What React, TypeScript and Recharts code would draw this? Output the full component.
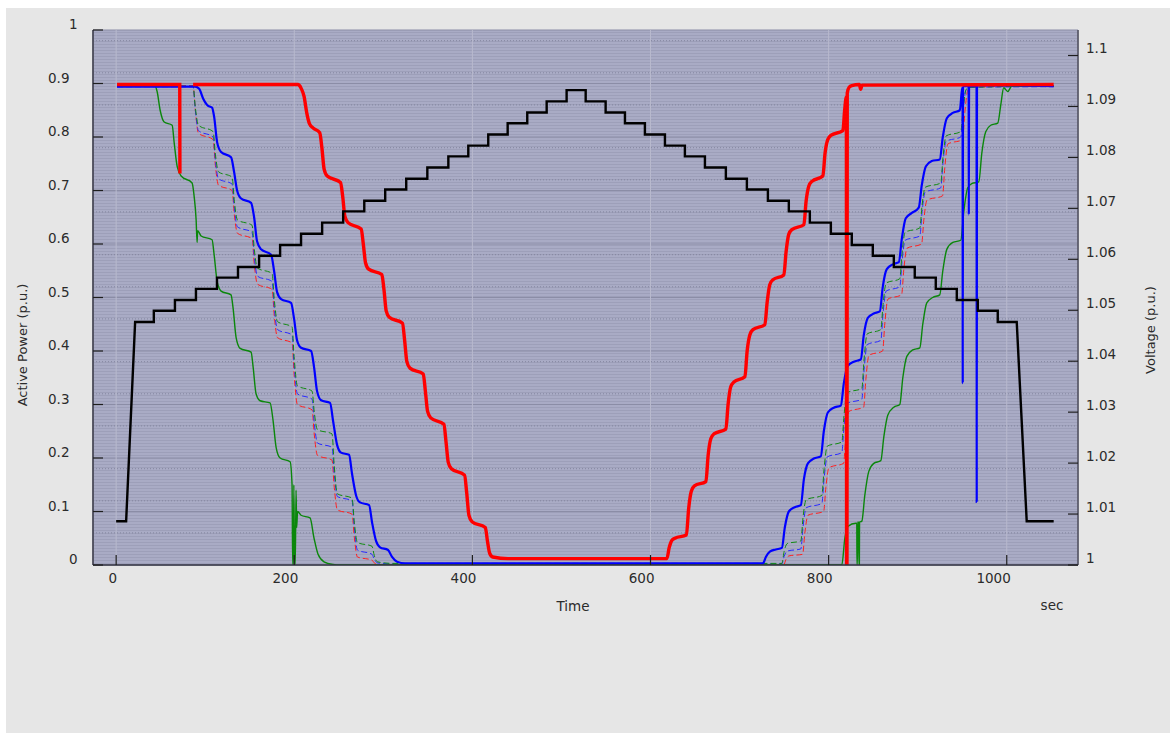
import React from 'react';
import { LineChart, Line, XAxis, YAxis, CartesianGrid } from 'recharts';

type Pt = [number, number | null];

// ---- axes ----
const timeTicks = [0, 200, 400, 600, 800, 1000];
const powerTicks = [0, 0.1, 0.2, 0.3, 0.4, 0.5, 0.6, 0.7, 0.8, 0.9, 1];
const powerMinorTicks = [
  0.02, 0.04, 0.06, 0.08, 0.12, 0.14, 0.16, 0.18, 0.22, 0.24, 0.26, 0.28, 0.32, 0.34, 0.36, 0.38,
  0.42, 0.44, 0.46, 0.48, 0.52, 0.54, 0.56, 0.58, 0.62, 0.64, 0.66, 0.68, 0.72, 0.74, 0.76, 0.78,
  0.82, 0.84, 0.86, 0.88, 0.92, 0.94, 0.96, 0.98,
];
const voltageTicks = [1, 1.01, 1.02, 1.03, 1.04, 1.05, 1.06, 1.07, 1.08, 1.09, 1.1];

// ---- voltage (p.u.): plateaus [start s, end s, level] ----
const voltagePlateaus: [number, number, number][] = [
  [0, 11.2, 1.0086],
  [21.3, 42.3, 1.0477], [42.3, 66.0, 1.0499], [66.0, 89.6, 1.052], [89.6, 113.2, 1.0542],
  [113.2, 136.8, 1.0564], [136.8, 160.5, 1.0585], [160.5, 184.1, 1.0607], [184.1, 207.6, 1.0628],
  [207.6, 231.3, 1.065], [231.3, 254.9, 1.0672], [254.9, 278.6, 1.0694], [278.6, 302.1, 1.0715],
  [302.1, 325.7, 1.0737], [325.7, 349.4, 1.0758], [349.4, 373.0, 1.078], [373.0, 395.4, 1.0802],
  [395.4, 417.8, 1.0823], [417.8, 439.6, 1.0845], [439.6, 461.6, 1.0867], [461.6, 483.4, 1.0888],
  [483.4, 505.8, 1.091], [505.8, 527.2, 1.0932], [527.2, 549.6, 1.091], [549.6, 571.3, 1.0888],
  [571.3, 593.7, 1.0867], [593.7, 616.2, 1.0845], [616.2, 638.6, 1.0823], [638.6, 661.1, 1.0802],
  [661.1, 684.6, 1.078], [684.6, 708.2, 1.0758], [708.2, 731.8, 1.0737], [731.8, 755.3, 1.0715],
  [755.3, 778.9, 1.0694], [778.9, 802.5, 1.0672], [802.5, 826.0, 1.065], [826.0, 849.6, 1.0628],
  [849.6, 873.2, 1.0607], [873.2, 896.7, 1.0585], [896.7, 920.3, 1.0564], [920.3, 943.9, 1.0542],
  [943.9, 967.5, 1.052], [967.5, 989.9, 1.0499], [989.9, 1011.2, 1.0477],
  [1022.4, 1052.7, 1.0086],
];

// ---- active power (p.u.) ----
const redPower: Pt[] = [
  [1, 0.898], [71.4, 0.898], [71.6, 0.732], [72.0, null], [86.4, 0.898], [204, 0.898],
  [205.4, 0.897], [208, 0.89], [211, 0.876], [214, 0.845], [217, 0.825], [221, 0.817], [228.6, 0.808],
  [231, 0.78], [233.5, 0.74], [237, 0.727], [251.9, 0.715],
  [254.3, 0.69], [256.8, 0.652], [260.3, 0.64], [275.1, 0.628],
  [277.5, 0.6], [280, 0.565], [283.5, 0.553], [298.3, 0.543],
  [300.7, 0.515], [303.2, 0.475], [306.7, 0.463], [321.5, 0.452],
  [323.9, 0.42], [326.4, 0.38], [329.9, 0.368], [344.8, 0.357],
  [347.2, 0.325], [349.7, 0.287], [353.2, 0.275], [368.0, 0.263],
  [370.4, 0.23], [372.9, 0.192], [376.4, 0.18], [391.2, 0.168],
  [393.6, 0.135], [396.1, 0.093], [399.6, 0.081], [414.5, 0.07],
  [416.9, 0.045], [419.4, 0.022], [422.9, 0.015], [440, 0.012], [618.4, 0.012],
  [620.9, 0.032], [623.9, 0.046], [627.4, 0.05], [640.3, 0.056],
  [642.8, 0.105], [645.8, 0.138], [649.3, 0.148], [662.2, 0.156],
  [664.7, 0.205], [667.7, 0.236], [671.2, 0.245], [684.6, 0.254],
  [687.1, 0.3], [690.1, 0.333], [693.6, 0.342], [706.0, 0.352],
  [708.5, 0.4], [711.5, 0.43], [715, 0.44], [728.4, 0.449],
  [730.9, 0.49], [733.9, 0.524], [737.4, 0.533], [749.7, 0.542],
  [752.2, 0.585], [755.2, 0.618], [758.7, 0.627], [772.2, 0.636],
  [774.7, 0.68], [777.7, 0.708], [781.2, 0.717], [793.5, 0.727],
  [796, 0.77], [799, 0.795], [802.5, 0.803], [816.0, 0.812],
  [818.0, 0.85], [819.9, 0.875], [820.2, 0], [820.6, 0], [820.9, 0.882], [823, 0.893], [826, 0.896],
  [834.5, 0.898], [836, 0.889], [837.5, 0.897], [1052.7, 0.898],
];

const bluePower: Pt[] = [
  [1, 0.894], [88.7, 0.894], [93.2, 0.89], [97.6, 0.872], [103.3, 0.858], [107.7, 0.855],
  [110, 0.838], [113.4, 0.79], [117.8, 0.772], [129, 0.762],
  [132.4, 0.735], [135.8, 0.7], [140.3, 0.685], [151.5, 0.677],
  [154.9, 0.65], [158.2, 0.605], [162.7, 0.59], [174, 0.58],
  [177.3, 0.55], [180.7, 0.51], [185.2, 0.497], [196.4, 0.49],
  [199.8, 0.46], [203.1, 0.42], [207.6, 0.406], [218.9, 0.4],
  [222.2, 0.37], [225.6, 0.325], [230.1, 0.308], [240.2, 0.303],
  [243.5, 0.27], [248, 0.225], [252.5, 0.21], [261.5, 0.206],
  [264.9, 0.17], [269.4, 0.13], [273.8, 0.117], [284, 0.112],
  [287.3, 0.08], [291.8, 0.045], [296.3, 0.033], [305.3, 0.028],
  [309.8, 0.015], [315.4, 0.006], [324.4, 0.003], [726.2, 0.003],
  [729.5, 0.015], [734, 0.025], [740.7, 0.029], [747.5, 0.032],
  [750.8, 0.07], [755.3, 0.1], [762, 0.108], [768.8, 0.112],
  [772.2, 0.16], [776.7, 0.19], [783.4, 0.199], [791.2, 0.203],
  [794.6, 0.25], [799.1, 0.285], [805.8, 0.294], [813.7, 0.298],
  [817.1, 0.34], [821.5, 0.372], [828.3, 0.38], [836.1, 0.384],
  [839.5, 0.43], [844, 0.462], [850.7, 0.47], [857.5, 0.474],
  [860.8, 0.52], [865.3, 0.553], [872.1, 0.562], [878.8, 0.566],
  [882.2, 0.61], [886.6, 0.648], [893.4, 0.658], [901.2, 0.668],
  [904.6, 0.71], [909.1, 0.745], [915.8, 0.755], [924.8, 0.758],
  [928.2, 0.8], [932.7, 0.835], [939.4, 0.845], [947.3, 0.85],
  [949.5, 0.885], [950.4, 0.893], [950.6, 0.34], [950.9, 0.895],
  [957.2, 0.895], [957.4, 0.655], [957.7, 0.895],
  [966.1, 0.895], [966.3, 0.118], [966.6, 0.897], [1052.7, 0.895],
];

const greenPower: Pt[] = [
  [1.1, 0.895], [43.8, 0.895], [46, 0.885], [49.4, 0.85], [53.9, 0.828], [62.9, 0.822],
  [65.1, 0.79], [68.5, 0.745], [73, 0.727], [85.3, 0.714],
  [87.5, 0.69], [89.8, 0.645], [90.9, 0.603], [91.5, 0.625], [95.4, 0.615], [107.7, 0.608],
  [110, 0.58], [113.4, 0.53], [117.8, 0.512], [129, 0.505],
  [131.3, 0.48], [134.7, 0.425], [139.2, 0.405], [151.5, 0.398],
  [153.8, 0.37], [157.1, 0.32], [161.6, 0.307], [172.8, 0.303],
  [176.2, 0.27], [179.6, 0.22], [184.1, 0.2], [195.3, 0.193],
  [197.5, 0.15], [198.2, 0], [199.1, 0], [199.5, 0.15], [200.4, 0], [201.1, 0], [202, 0.14],
  [202.7, 0.07], [203.7, 0.1], [207.6, 0.093], [217.7, 0.088],
  [222.2, 0.05], [226.7, 0.02], [233.4, 0.006], [243.5, 0.001], [251.4, 0], [814.8, 0],
  [818.2, 0.05], [821.5, 0.072], [830.5, 0.078], [831.6, 0.078], [831.8, 0], [832.3, 0],
  [832.5, 0.08], [833.8, 0.08], [834, 0], [834.5, 0], [834.7, 0.08], [837.3, 0.082],
  [840.6, 0.13], [845.1, 0.175], [850.7, 0.19], [858.6, 0.195],
  [862, 0.24], [866.4, 0.28], [873.2, 0.295], [879.9, 0.3],
  [883.3, 0.35], [887.8, 0.39], [894.5, 0.402], [902.4, 0.406],
  [905.7, 0.45], [910.2, 0.49], [916.9, 0.5], [924.8, 0.505],
  [928.2, 0.55], [932.7, 0.59], [939.4, 0.603], [948.4, 0.607],
  [951.7, 0.66], [956.2, 0.705], [960.7, 0.713], [968.6, 0.716],
  [972, 0.77], [976.4, 0.81], [982, 0.822], [989.9, 0.826],
  [993.3, 0.86], [996.6, 0.892], [1001.1, 0.885], [1005.6, 0.895], [1052.7, 0.895],
];

const greenDashed: Pt[] = [
  [1, 0.895], [86.4, 0.895], [88.9, 0.855], [92.4, 0.822], [108.9, 0.81],
  [111.4, 0.768], [114.9, 0.735], [130.2, 0.725],
  [132.7, 0.68], [136.2, 0.645], [152.6, 0.635],
  [155.1, 0.59], [158.6, 0.555], [175.1, 0.545],
  [177.6, 0.495], [181.1, 0.455], [197.5, 0.445],
  [200, 0.385], [203.5, 0.335], [220, 0.325],
  [222.5, 0.285], [226, 0.253], [242.4, 0.245],
  [244.9, 0.185], [248.4, 0.133], [264.9, 0.125],
  [267.4, 0.08], [270.9, 0.042], [287.3, 0.035],
  [289.8, 0.018], [293.3, 0.006], [310, 0.003], [747.5, 0.003],
  [750, 0.025], [753.5, 0.04], [768.8, 0.045],
  [771.3, 0.09], [774.8, 0.122], [792.4, 0.13],
  [794.9, 0.18], [798.4, 0.222], [814.8, 0.23],
  [817.3, 0.28], [820.8, 0.322], [837.3, 0.33],
  [839.8, 0.385], [843.3, 0.432], [858.6, 0.44],
  [861.1, 0.487], [864.6, 0.527], [879.9, 0.535],
  [882.4, 0.582], [885.9, 0.622], [902.4, 0.63],
  [904.9, 0.672], [908.4, 0.706], [925.9, 0.714],
  [928.4, 0.762], [931.9, 0.802], [948.4, 0.81],
  [950.9, 0.852], [954.4, 0.889], [960, 0.893], [1052.7, 0.895],
];

const blueDashed: Pt[] = [
  [1, 0.894], [86.4, 0.894], [88.9, 0.85], [92.4, 0.812], [108.9, 0.8],
  [111.4, 0.756], [114.9, 0.722], [130.2, 0.712],
  [132.7, 0.667], [136.2, 0.632], [152.6, 0.622],
  [155.1, 0.576], [158.6, 0.54], [175.1, 0.53],
  [177.6, 0.48], [181.1, 0.44], [197.5, 0.43],
  [200, 0.37], [203.5, 0.32], [220, 0.31],
  [222.5, 0.265], [226, 0.228], [242.4, 0.22],
  [244.9, 0.17], [248.4, 0.128], [264.9, 0.12],
  [267.4, 0.07], [270.9, 0.028], [287.3, 0.02],
  [289.8, 0.011], [293.3, 0.004], [310, 0.002], [747.5, 0.002],
  [750, 0.016], [753.5, 0.026], [768.8, 0.03],
  [771.3, 0.072], [774.8, 0.107], [792.4, 0.115],
  [794.9, 0.162], [798.4, 0.202], [814.8, 0.21],
  [817.3, 0.26], [820.8, 0.302], [837.3, 0.31],
  [839.8, 0.365], [843.3, 0.412], [858.6, 0.42],
  [861.1, 0.47], [864.6, 0.512], [879.9, 0.52],
  [882.4, 0.567], [885.9, 0.607], [902.4, 0.615],
  [904.9, 0.66], [908.4, 0.697], [925.9, 0.705],
  [928.4, 0.752], [931.9, 0.792], [948.4, 0.8],
  [950.9, 0.848], [954.4, 0.888], [960, 0.893], [1052.7, 0.894],
];

const redDashed: Pt[] = [
  [1, 0.896], [86.4, 0.896], [88.9, 0.85], [92.4, 0.807], [108.9, 0.795],
  [111.4, 0.747], [114.9, 0.71], [130.2, 0.7],
  [132.7, 0.655], [136.2, 0.62], [152.6, 0.61],
  [155.1, 0.562], [158.6, 0.525], [175.1, 0.515],
  [177.6, 0.465], [181.1, 0.425], [197.5, 0.415],
  [200, 0.352], [203.5, 0.3], [220, 0.29],
  [222.5, 0.243], [226, 0.205], [242.4, 0.196],
  [244.9, 0.145], [248.4, 0.103], [264.9, 0.095],
  [267.4, 0.052], [270.9, 0.015], [287.3, 0.009],
  [289.8, 0.004], [293.3, 0.001], [310, 0], [749.5, 0],
  [752, 0.01], [755.5, 0.017], [770.8, 0.02],
  [773.3, 0.06], [776.8, 0.093], [794.4, 0.1],
  [796.9, 0.145], [800.4, 0.182], [816.8, 0.19],
  [819.3, 0.242], [822.8, 0.287], [839.3, 0.295],
  [841.8, 0.347], [845.3, 0.392], [860.6, 0.4],
  [863.1, 0.452], [866.6, 0.497], [881.9, 0.505],
  [884.4, 0.552], [887.9, 0.592], [904.4, 0.6],
  [906.9, 0.645], [910.4, 0.682], [927.9, 0.69],
  [930.4, 0.742], [933.9, 0.787], [950.4, 0.795],
  [952.9, 0.845], [956.4, 0.888], [962, 0.893], [1052.7, 0.896],
];

const toRows = (pts: Pt[]) => pts.map(([t, v]) => ({ t, v }));
const voltageRows = voltagePlateaus.flatMap(([s, e, v]) => [
  { t: s, v },
  { t: e, v },
]);

const FONT = '"DejaVu Sans", Verdana, sans-serif';
const TEXT = '#2b2b2b';

const fmt = (v: number) => String(Math.round(v * 100) / 100);

const LeftTick = (props: any) => {
  const { x, y, payload } = props;
  const v: number = payload.value;
  const whole = v === 0 || v === 1;
  return (
    <g>
      <line x1={x} x2={x + 10} y1={y} y2={y} stroke="#1e1e1e" strokeWidth={1.2} />
      <text x={whole ? x - 15.5 : x - 23.5} y={y - 1} textAnchor="end" fontFamily={FONT} fontSize={13.5} fill={TEXT}>
        {fmt(v)}
      </text>
    </g>
  );
};

const RightTick = (props: any) => {
  const { x, y, payload } = props;
  const v: number = payload.value;
  return (
    <g>
      <line x1={x - 10} x2={x} y1={y} y2={y} stroke="#1e1e1e" strokeWidth={1.2} />
      <text x={x + 8} y={y - 2} textAnchor="start" fontFamily={FONT} fontSize={13.5} fill={TEXT}>
        {fmt(v)}
      </text>
    </g>
  );
};

const BottomTick = (props: any) => {
  const { x, y, payload } = props;
  const v: number = payload.value;
  return (
    <g>
      <line x1={x} x2={x} y1={y - 10} y2={y} stroke="#1e1e1e" strokeWidth={1.2} />
      <text x={x + (v === 0 ? 1 : 4)} y={y + 18} textAnchor="end" fontFamily={FONT} fontSize={13.5} fill={TEXT}>
        {String(v)}
      </text>
    </g>
  );
};

const LeftTitle = () => {
  const cx = 22;
  const cy = 345;
  return (
    <text x={cx} y={cy} transform={`rotate(-90 ${cx} ${cy})`} textAnchor="middle" dominantBaseline="central"
      fontFamily={FONT} fontSize={13} fill={TEXT}>
      Active Power (p.u.)
    </text>
  );
};

const RightTitle = () => {
  const cx = 1150;
  const cy = 330;
  return (
    <text x={cx} y={cy} transform={`rotate(-90 ${cx} ${cy})`} textAnchor="middle" dominantBaseline="central"
      fontFamily={FONT} fontSize={13} fill={TEXT}>
      Voltage (p.u.)
    </text>
  );
};

const BottomTitle = () => (
  <g>
    <text x={573} y={611} textAnchor="middle" fontFamily={FONT} fontSize={13.5} fill={TEXT}>Time</text>
    <text x={1052} y={610} textAnchor="middle" fontFamily={FONT} fontSize={13.5} fill={TEXT}>sec</text>
  </g>
);

const lineProps = { dot: false, activeDot: false, isAnimationActive: false } as const;

export default function App() {
  return (
    <div style={{ position: 'absolute', left: 0, top: 0, width: 1175, height: 735, background: '#ffffff' }}>
      <div style={{ position: 'absolute', left: 6, top: 8, width: 1164, height: 725, background: '#e6e6e6' }} />
      <div style={{ position: 'absolute', left: 0, top: 0 }}>
        <LineChart width={1175} height={735} margin={{ top: 30, right: 0, bottom: 120, left: 0 }}>
          <defs>
            <pattern id="scanlines" width="8" height="3" patternUnits="userSpaceOnUse">
              <rect width="8" height="3" fill="#a9abc5" />
              <rect y="2" width="8" height="1" fill="#9d9fb9" />
            </pattern>
          </defs>
          <CartesianGrid yAxisId="p" vertical={false} stroke="#8b8da6" fill="url(#scanlines)" fillOpacity={1} />
          <CartesianGrid yAxisId="p" vertical={false} horizontalValues={powerMinorTicks} stroke="#83859e"
            strokeDasharray="1 2" />
          <CartesianGrid yAxisId="p" horizontal={false} stroke="#b8b9cd" />
          <XAxis dataKey="t" type="number" domain={[-26, 1080]} ticks={timeTicks} allowDataOverflow
            height={50} tickSize={0} tickMargin={0} tickLine={false}
            axisLine={{ stroke: '#333340', strokeWidth: 1.5 }} tick={<BottomTick />}
            label={<BottomTitle />} />
          <YAxis yAxisId="p" domain={[0, 1]} ticks={powerTicks} width={93} tickSize={0} tickMargin={0}
            tickLine={false} axisLine={{ stroke: '#333340', strokeWidth: 1.5 }} tick={<LeftTick />}
            allowDataOverflow label={<LeftTitle />} />
          <YAxis yAxisId="v" orientation="right" domain={[1, 1.105]} ticks={voltageTicks} width={97}
            tickSize={0} tickMargin={0} tickLine={false} axisLine={{ stroke: '#4a4a58', strokeWidth: 1.5 }}
            tick={<RightTick />} allowDataOverflow label={<RightTitle />} />

          <Line yAxisId="p" data={toRows(redDashed)} dataKey="v" type="monotone" stroke="#ff2020"
            strokeWidth={1} strokeDasharray="6 3" {...lineProps} />
          <Line yAxisId="p" data={toRows(blueDashed)} dataKey="v" type="monotone" stroke="#2a2aff"
            strokeWidth={1} strokeDasharray="6 3" {...lineProps} />
          <Line yAxisId="p" data={toRows(greenDashed)} dataKey="v" type="monotone" stroke="#118a11"
            strokeWidth={1} strokeDasharray="6 3" {...lineProps} />
          <Line yAxisId="p" data={toRows(greenPower)} dataKey="v" type="monotone" stroke="#0b870b"
            strokeWidth={1.4} {...lineProps} />
          <Line yAxisId="p" data={toRows(bluePower)} dataKey="v" type="monotone" stroke="#0000ff"
            strokeWidth={2.2} {...lineProps} />
          <Line yAxisId="p" data={toRows(redPower)} dataKey="v" type="monotone" stroke="#ff0000"
            strokeWidth={3.4} {...lineProps} />
          <Line yAxisId="v" data={voltageRows} dataKey="v" type="linear" stroke="#000000"
            strokeWidth={2.4} {...lineProps} />
        </LineChart>
      </div>
    </div>
  );
}
